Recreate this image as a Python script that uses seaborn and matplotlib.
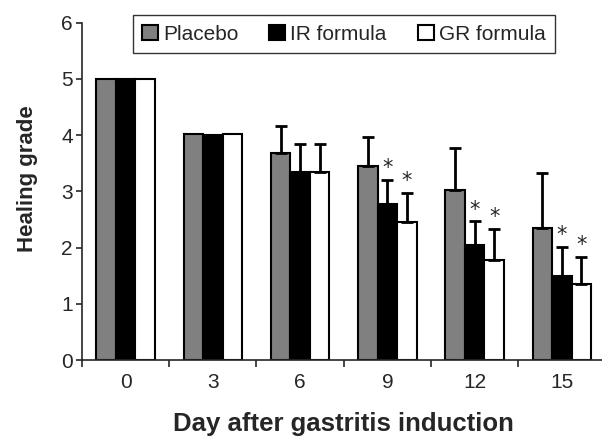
import pandas as pd
import numpy as np
import matplotlib
matplotlib.use('Agg')
import matplotlib.pyplot as plt
import seaborn as sns
from matplotlib.ticker import FixedLocator

days = ['0', '3', '6', '9', '12', '15']
groups = ['Placebo', 'IR formula', 'GR formula']
placebo = [5.0, 4.02, 3.69, 3.46, 3.02, 2.35]
ir_formula = [5.0, 4.0, 3.34, 2.77, 2.05, 1.49]
gr_formula = [5.0, 4.02, 3.35, 2.46, 1.78, 1.35]
placebo_err = [0, 0, 0.47, 0.50, 0.75, 0.97]
ir_err = [0, 0, 0.50, 0.43, 0.42, 0.53]
gr_err = [0, 0, 0.49, 0.51, 0.55, 0.49]
# significant vs placebo (IR, GR) from day 9 on
signif = [False, False, False, True, True, True]

df = pd.DataFrame({
    'Day': days * 3,
    'Group': [g for g in groups for _ in days],
    'Grade': placebo + ir_formula + gr_formula,
    'Err': placebo_err + ir_err + gr_err,
})

sns.set_style('ticks')
plt.rcParams['font.family'] = ['Liberation Sans', 'DejaVu Sans']

fig = plt.figure(figsize=(6.02, 4.36), dpi=100)
ax = fig.add_axes([0.136, 0.174, 0.870, 0.774])

palette = {'Placebo': '#808080', 'IR formula': '#000000', 'GR formula': '#ffffff'}
sns.barplot(data=df, x='Day', y='Grade', hue='Group', order=days, hue_order=groups,
            palette=palette, width=0.67, gap=0, errorbar=None,
            edgecolor='black', linewidth=1.5, ax=ax)

# error bars (upward only) and asterisks
for gi, g in enumerate(groups):
    container = ax.containers[gi]
    sub = df[df['Group'] == g].set_index('Day').loc[days]
    for di, patch in enumerate(container.patches):
        xc = patch.get_x() + patch.get_width() / 2
        h = patch.get_height()
        e = sub['Err'].iloc[di]
        if e > 0:
            ax.errorbar(xc, h, yerr=[[0], [e]], fmt='none', ecolor='black',
                        elinewidth=2, capsize=4.5, capthick=2)
        if gi > 0 and signif[di]:
            ax.text(xc, h + e + 0.03, '*', ha='center', va='bottom',
                    fontsize=15, family='DejaVu Sans')

ax.set_ylim(0, 6)
ax.set_xlim(-0.5, 5.5)
ax.set_yticks(range(0, 7))
ax.tick_params(axis='y', direction='out', length=4.5, width=1.2, labelsize=15, pad=2)
ax.tick_params(axis='x', which='major', length=0, labelsize=15, pad=9)
ax.xaxis.set_minor_locator(FixedLocator(np.arange(-0.5, 6, 1)))
ax.tick_params(axis='x', which='minor', direction='out', length=5, width=1.2)
for s in ['left', 'bottom']:
    ax.spines[s].set_linewidth(1.2)
sns.despine(ax=ax, top=True, right=True)

ax.set_xlabel('Day after gastritis induction', fontsize=18.5, fontweight='bold', labelpad=15)
ax.set_ylabel('Healing grade', fontsize=16, fontweight='bold')
ax.yaxis.set_label_coords(-0.083, 0.538)

leg = ax.legend(loc='upper center', bbox_to_anchor=(0.5, 1.022), borderaxespad=0,
                ncol=3, frameon=True, fontsize=15, fancybox=False,
                handlelength=0.75, handleheight=0.75, handletextpad=0.25,
                columnspacing=1.5, borderpad=0.45)
leg.get_frame().set_edgecolor('black')
leg.get_frame().set_linewidth(1.0)
leg.set_title(None)

fig.savefig('out.png', dpi=100)
